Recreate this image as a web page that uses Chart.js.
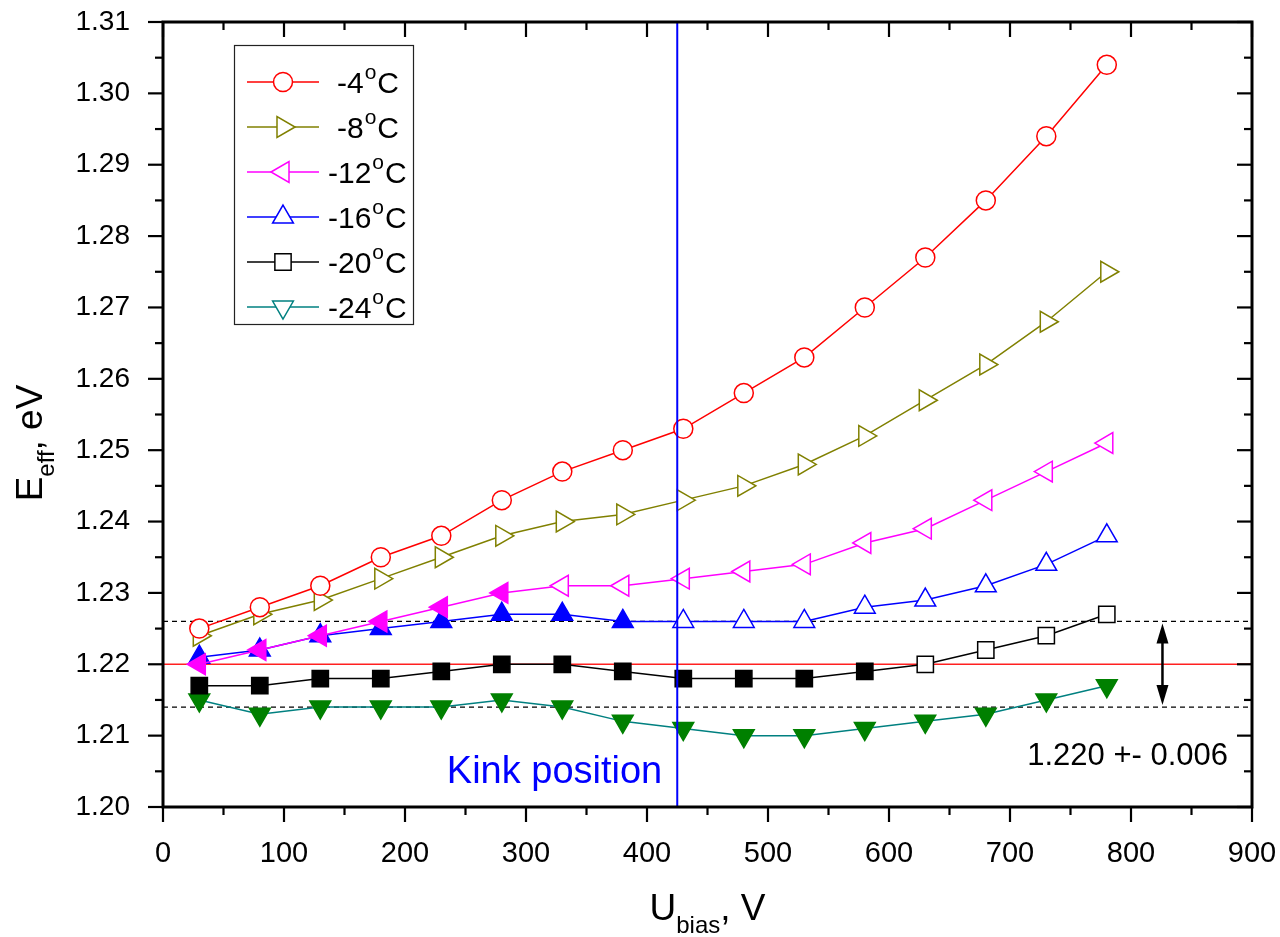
<!DOCTYPE html>
<html>
<head>
<meta charset="utf-8">
<script src="https://cdn.jsdelivr.net/npm/chart.js@4.4.0/dist/chart.umd.min.js"></script>
<style>
  html, body { margin: 0; padding: 0; background: #fff; }
  #wrap { width: 1280px; height: 937px; }
</style>
</head>
<body>
<div id="wrap"><canvas id="effChart" width="1280" height="937"></canvas></div>
<script>
// bias voltage, V
const uBias = [30, 80, 130, 180, 230, 280, 330, 380, 430, 480, 530, 580, 630, 680, 730, 780];

// effective energy, eV
const eMinus4  = [1.225, 1.228, 1.231, 1.235, 1.238, 1.243, 1.247, 1.250, 1.253, 1.258, 1.263, 1.270, 1.277, 1.285, 1.294, 1.304];
const eMinus8  = [1.224, 1.227, 1.229, 1.232, 1.235, 1.238, 1.240, 1.241, 1.243, 1.245, 1.248, 1.252, 1.257, 1.262, 1.268, 1.275];
const eMinus12 = [1.220, 1.222, 1.224, 1.226, 1.228, 1.230, 1.231, 1.231, 1.232, 1.233, 1.234, 1.237, 1.239, 1.243, 1.247, 1.251];
const eMinus16 = [1.221, 1.222, 1.224, 1.225, 1.226, 1.227, 1.227, 1.226, 1.226, 1.226, 1.226, 1.228, 1.229, 1.231, 1.234, 1.238];
const eMinus20 = [1.217, 1.217, 1.218, 1.218, 1.219, 1.220, 1.220, 1.219, 1.218, 1.218, 1.218, 1.219, 1.220, 1.222, 1.224, 1.227];
const eMinus24 = [1.215, 1.213, 1.214, 1.214, 1.214, 1.215, 1.214, 1.212, 1.211, 1.210, 1.210, 1.211, 1.212, 1.213, 1.215, 1.217];

const tempLabels = ["-4", "-8", "-12", "-16", "-20", "-24"];

// reference values
const meanE = 1.220;
const spreadE = 0.006;
const kinkU = 425;

const xTickValues = [0, 100, 200, 300, 400, 500, 600, 700, 800, 900];
const yTickValues = [1.20, 1.21, 1.22, 1.23, 1.24, 1.25, 1.26, 1.27, 1.28, 1.29, 1.30, 1.31];

const FONT = "'Liberation Sans', Arial, sans-serif";

// marker style per series; filled = how many leading points are solid
const styles = [
  { data: eMinus4,  color: "#ff0000", fill: "#ff0000", shape: "circle",   rot: 0,   r: 9.5,  filled: 0 },
  { data: eMinus8,  color: "#808000", fill: "#808000", shape: "triangle", rot: 90,  r: 12,   filled: 0 },
  { data: eMinus12, color: "#ff00ff", fill: "#ff00ff", shape: "triangle", rot: 270, r: 12,   filled: 6 },
  { data: eMinus16, color: "#0000ff", fill: "#0000ff", shape: "triangle", rot: 0,   r: 12,   filled: 8 },
  { data: eMinus20, color: "#000000", fill: "#000000", shape: "rect",     rot: 0,   r: 11.5, filled: 12 },
  { data: eMinus24, color: "#008080", fill: "#008000", shape: "triangle", rot: 180, r: 12,   filled: 16 },
];

const seriesSets = styles.map((s, k) => ({
  label: tempLabels[k] + "°C",
  data: uBias.map((u, i) => ({ x: u, y: s.data[i] })),
  borderColor: s.color,
  borderWidth: 1.5,
  pointStyle: s.shape,
  rotation: s.rot,
  pointRadius: s.r,
  pointBorderWidth: 1.5,
  pointBackgroundColor: uBias.map((u, i) => i < s.filled ? s.fill : "#ffffff"),
  pointBorderColor: uBias.map((u, i) => i < s.filled ? s.fill : s.color),
  tension: 0,
  order: 1,
}));

const refSets = [
  { label: "mean", data: [{ x: 0, y: meanE }, { x: 900, y: meanE }], borderColor: "#ff2020", borderWidth: 1.5, pointRadius: 0, order: 2 },
  { label: "upper", data: [{ x: 0, y: meanE + spreadE }, { x: 900, y: meanE + spreadE }], borderColor: "#000", borderWidth: 1.2, borderDash: [5, 4], pointRadius: 0, order: 2 },
  { label: "lower", data: [{ x: 0, y: meanE - spreadE }, { x: 900, y: meanE - spreadE }], borderColor: "#000", borderWidth: 1.2, borderDash: [5, 4], pointRadius: 0, order: 2 },
  { label: "kink", data: [{ x: kinkU, y: 1.20 }, { x: kinkU, y: 1.31 }], borderColor: "#0000ff", borderWidth: 2, pointRadius: 0, order: 0 },
];

function line(ctx, x1, y1, x2, y2) {
  ctx.beginPath(); ctx.moveTo(x1, y1); ctx.lineTo(x2, y2); ctx.stroke();
}

// frame, ticks, legend, annotations, axis titles
const decor = {
  id: "decor",
  afterDraw(chart) {
    const { ctx, chartArea: a, scales: { x, y } } = chart;
    ctx.save();
    ctx.strokeStyle = "#000";
    ctx.lineWidth = 3;
    ctx.strokeRect(a.left, a.top, a.right - a.left, a.bottom - a.top);

    ctx.lineWidth = 2.2;
    for (let v = 0; v <= 900; v += 50) {
      const len = v % 100 === 0 ? 15 : 8;
      const px = x.getPixelForValue(v);
      line(ctx, px, a.bottom, px, a.bottom + len);
      line(ctx, px, a.top, px, a.top + len);
    }
    for (let i = 0; i <= 22; i++) {
      const len = i % 2 === 0 ? 15 : 8;
      const py = y.getPixelForValue(1.20 + i * 0.005);
      line(ctx, a.left - len, py, a.left, py);
      line(ctx, a.right - len, py, a.right, py);
    }

    // legend
    ctx.lineWidth = 1.2;
    ctx.strokeStyle = "#222";
    ctx.strokeRect(234.5, 45.5, 179, 279);
    styles.forEach((s, k) => {
      const ry = 82 + k * 45;
      ctx.strokeStyle = s.color;
      ctx.lineWidth = 1.5;
      line(ctx, 247, ry, 319, ry);
      ctx.fillStyle = "#fff";
      Chart.helpers.drawPoint(ctx, { pointStyle: s.shape, rotation: s.rot, radius: s.r, borderWidth: 1.5 }, 283, ry);
      ctx.fillStyle = "#000";
      ctx.textAlign = "left";
      ctx.textBaseline = "alphabetic";
      let tx = tempLabels[k].length > 2 ? 328 : 337;
      ctx.font = "30px " + FONT;
      ctx.fillText(tempLabels[k], tx, ry + 11);
      tx += ctx.measureText(tempLabels[k]).width + 1;
      ctx.font = "21px " + FONT;
      ctx.fillText("o", tx, ry - 3);
      tx += ctx.measureText("o").width + 1;
      ctx.font = "30px " + FONT;
      ctx.fillText("C", tx, ry + 11);
    });

    // double arrow for the spread
    const ax = x.getPixelForValue(826);
    const yTop = y.getPixelForValue(meanE + spreadE) + 2;
    const yBot = y.getPixelForValue(meanE - spreadE) - 2;
    ctx.strokeStyle = "#000";
    ctx.fillStyle = "#000";
    ctx.lineWidth = 2.5;
    line(ctx, ax, yTop + 10, ax, yBot - 10);
    ctx.beginPath(); ctx.moveTo(ax, yTop); ctx.lineTo(ax - 6, yTop + 20); ctx.lineTo(ax + 6, yTop + 20); ctx.closePath(); ctx.fill();
    ctx.beginPath(); ctx.moveTo(ax, yBot); ctx.lineTo(ax - 6, yBot - 20); ctx.lineTo(ax + 6, yBot - 20); ctx.closePath(); ctx.fill();

    ctx.font = "31px " + FONT;
    ctx.textAlign = "right";
    ctx.fillText("1.220 +- 0.006", a.right - 24, y.getPixelForValue(1.2059));

    ctx.fillStyle = "#0000ff";
    ctx.font = "38px " + FONT;
    ctx.fillText("Kink position", x.getPixelForValue(kinkU) - 15, y.getPixelForValue(1.2034));

    // x title with subscript
    ctx.fillStyle = "#000";
    ctx.textAlign = "left";
    const big = "37px " + FONT, sub = "24px " + FONT;
    ctx.font = big; const wU = ctx.measureText("U").width, wV = ctx.measureText(", V").width;
    ctx.font = sub; const wB = ctx.measureText("bias").width;
    let sx = (a.left + a.right) / 2 - (wU + wB + wV) / 2;
    ctx.font = big; ctx.fillText("U", sx, 920); sx += wU;
    ctx.font = sub; ctx.fillText("bias", sx, 933); sx += wB;
    ctx.font = big; ctx.fillText(", V", sx, 920);

    // y title, rotated
    ctx.save();
    ctx.translate(42, 443);
    ctx.rotate(-Math.PI / 2);
    ctx.font = big; const wE = ctx.measureText("E").width, wEV = ctx.measureText(", eV").width;
    ctx.font = sub; const wF = ctx.measureText("eff").width;
    let sy = -(wE + wF + wEV) / 2;
    ctx.font = big; ctx.fillText("E", sy, 0); sy += wE;
    ctx.font = sub; ctx.fillText("eff", sy, 12); sy += wF;
    ctx.font = big; ctx.fillText(", eV", sy, 0);
    ctx.restore();

    ctx.restore();
  },
};

new Chart(document.getElementById("effChart").getContext("2d"), {
  type: "line",
  data: { datasets: [...refSets, ...seriesSets] },
  options: {
    responsive: false,
    animation: false,
    layout: { padding: { top: 22, right: 28, left: 0, bottom: 0 } },
    plugins: { legend: { display: false }, tooltip: { enabled: false } },
    scales: {
      x: {
        type: "linear",
        min: 0,
        max: 900,
        afterBuildTicks: (s) => { s.ticks = xTickValues.map((v) => ({ value: v })); },
        afterFit: (s) => { s.height = 130; s.paddingLeft = 0; s.paddingRight = 0; },
        grid: { display: false },
        border: { display: false },
        ticks: { color: "#000", font: { family: FONT, size: 29 }, padding: 22, maxRotation: 0 },
      },
      y: {
        type: "linear",
        min: 1.20,
        max: 1.31,
        afterBuildTicks: (s) => { s.ticks = yTickValues.map((v) => ({ value: v })); },
        afterFit: (s) => { s.width = 163; s.paddingTop = 0; s.paddingBottom = 0; },
        grid: { display: false },
        border: { display: false },
        ticks: { color: "#000", font: { family: FONT, size: 28 }, padding: 25, callback: (v) => v.toFixed(2) },
      },
    },
  },
  plugins: [decor],
});
</script>
</body>
</html>
